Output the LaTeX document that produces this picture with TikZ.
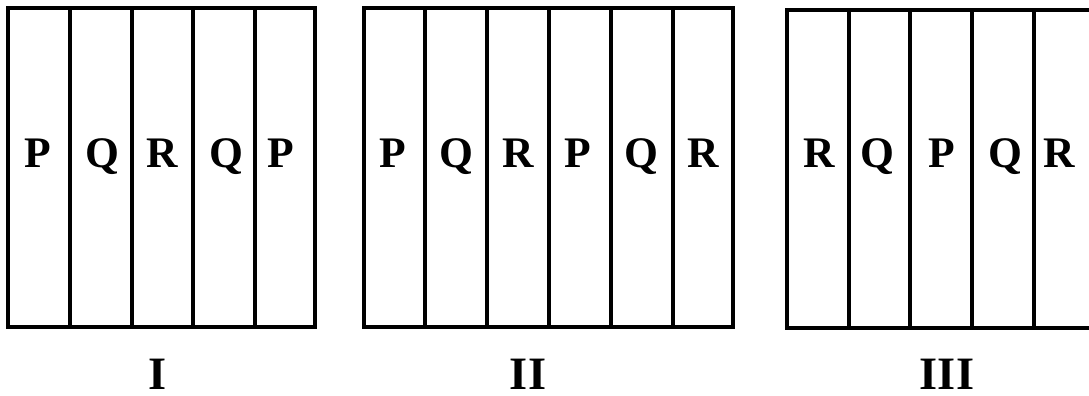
\documentclass[tikz,border=0pt]{standalone}
\usepackage{fontspec}
\setmainfont{Liberation Serif}
\begin{document}
\begin{tikzpicture}[x=0.025cm, y=-0.025cm, line width=2.2pt,
        every node/.style={font=\bfseries\fontsize{31}{31}\selectfont, anchor=base, inner sep=0pt},
        numeral/.style={font=\bfseries\fontsize{33}{33}\selectfont}]
        \useasboundingbox (0,0) rectangle (1089,395);
        \clip (0,0) rectangle (1089,395);
        % panel I
        \draw (8,8) rectangle (315,327);
        \foreach \x in {70, 132, 193, 255} {
            \draw (\x,8) -- (\x,327);
        }
        \foreach \x/\t [count=\i] in {38/P, 102/Q, 162/R, 226/Q, 281/P} {
            \node (one-\i) at (\x,167) {\t};
        }
        \node[numeral] (one) at (158,389) {I};
        % panel II
        \draw (364,8) rectangle (733,327);
        \foreach \x in {425, 487, 549, 611, 673} {
            \draw (\x,8) -- (\x,327);
        }
        \foreach \x/\t [count=\i] in {393/P, 456/Q, 518/R, 578/P, 641/Q, 703/R} {
            \node (two-\i) at (\x,167) {\t};
        }
        \node[numeral] (two) at (528,389) {II};
        % panel III, cut off at the right edge
        \draw (787,10) rectangle (1097,328);
        \foreach \x in {849, 910, 972, 1034} {
            \draw (\x,10) -- (\x,328);
        }
        \foreach \x/\t [count=\i] in {819/R, 877/Q, 942/P, 1005/Q, 1059/R} {
            \node (three-\i) at (\x,167) {\t};
        }
        \node[numeral] (three) at (947,389) {III};
    \end{tikzpicture}
\end{document}
